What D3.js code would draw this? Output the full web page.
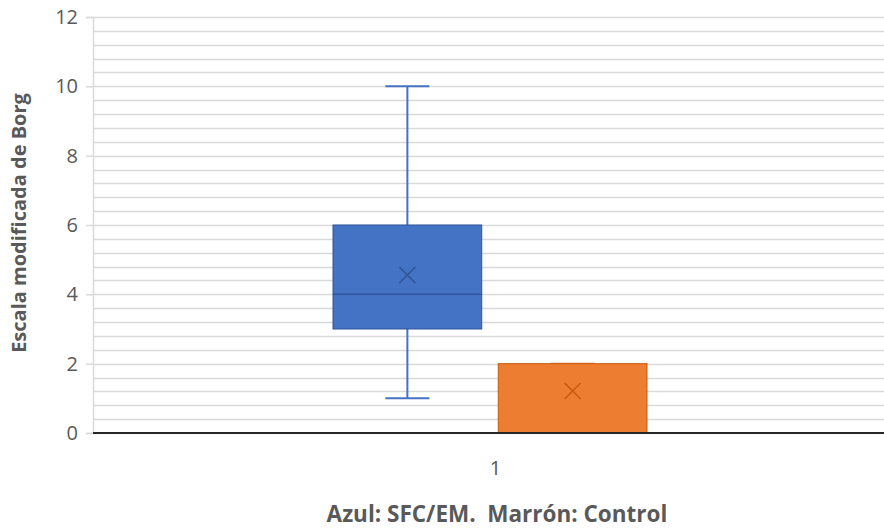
<!DOCTYPE html>
<html>
<head>
<meta charset="utf-8">
<title>Escala modificada de Borg</title>
<style>
  body { margin: 0; background: #fff; }
  text { font-family: "Open Sans", "Liberation Sans", sans-serif; white-space: pre; }
</style>
<script src="https://cdn.jsdelivr.net/npm/d3@7"></script>
</head>
<body>
<script>
// data
var categories = ["1"];
var groups = ["SFC/EM", "Control"];
var colors = ["#4472C4", "#ED7D31"];
var strokes = ["#2F5597", "#C55A11"];
var whiskerLow = [1, 0];
var q1 = [3, 0];
var median = [4, 0];
var q3 = [6, 2];
var whiskerHigh = [10, 2];
var means = [4.56, 1.21];
var yTicks = [0, 2, 4, 6, 8, 10, 12];

var margin = {top: 17, right: 0, bottom: 96, left: 93},
    width = 884 - margin.left - margin.right,
    height = 529 - margin.top - margin.bottom;

var svg = d3.select("body").append("svg")
    .attr("width", 884)
    .attr("height", 529)
  .append("g")
    .attr("transform", "translate(" + margin.left + "," + margin.top + ")");

var y = d3.scaleLinear().domain([0, 12]).range([height, 0]);
var x = d3.scaleBand().domain(categories).range([0, width]);
var xg = d3.scaleBand().domain(groups).range([240, 554]).paddingInner(0.1);

// minor + major gridlines every 0.4
var grid = d3.range(0, 12.01, 0.4).filter(function(v) { return v > 0.01; });
svg.selectAll(".grid").data(grid).enter().append("line")
    .attr("x1", 0).attr("x2", width)
    .attr("y1", function(d) { return Math.round(y(d)) + 0.5; })
    .attr("y2", function(d) { return Math.round(y(d)) + 0.5; })
    .attr("stroke", "#d9d9d9").attr("stroke-width", 1.5);

// y axis
var yAxis = svg.append("g")
    .call(d3.axisLeft(y).tickValues(yTicks).tickSize(7).tickPadding(8));
yAxis.select(".domain").attr("stroke", "#d9d9d9").attr("stroke-width", 1.5);
yAxis.selectAll(".tick line").attr("stroke", "#d9d9d9").attr("stroke-width", 1.5);
yAxis.selectAll(".tick text").attr("fill", "#595959").style("font-size", "20px");

var idx = d3.range(groups.length);
var cx = function(i) { return xg(groups[i]) + xg.bandwidth() / 2; };

// whiskers
svg.selectAll(".whisker").data(idx).enter().append("line")
    .attr("x1", cx).attr("x2", cx)
    .attr("y1", function(i) { return y(whiskerLow[i]); })
    .attr("y2", function(i) { return y(whiskerHigh[i]); })
    .attr("stroke", function(i) { return colors[i]; }).attr("stroke-width", 2);
["low", "high"].forEach(function(k) {
  svg.selectAll(".cap-" + k).data(idx).enter().append("line")
      .attr("x1", function(i) { return cx(i) - 22; })
      .attr("x2", function(i) { return cx(i) + 22; })
      .attr("y1", function(i) { return y(k == "low" ? whiskerLow[i] : whiskerHigh[i]); })
      .attr("y2", function(i) { return y(k == "low" ? whiskerLow[i] : whiskerHigh[i]); })
      .attr("stroke", function(i) { return colors[i]; }).attr("stroke-width", 2);
});

// boxes
svg.selectAll(".box").data(idx).enter().append("rect")
    .attr("x", function(i) { return xg(groups[i]); })
    .attr("width", xg.bandwidth())
    .attr("y", function(i) { return y(q3[i]); })
    .attr("height", function(i) { return y(q1[i]) - y(q3[i]); })
    .attr("fill", function(i) { return colors[i]; })
    .attr("stroke", function(i) { return strokes[i]; }).attr("stroke-width", 1);

// median
svg.selectAll(".median").data(idx).enter().append("line")
    .attr("x1", function(i) { return xg(groups[i]); })
    .attr("x2", function(i) { return xg(groups[i]) + xg.bandwidth(); })
    .attr("y1", function(i) { return y(median[i]); })
    .attr("y2", function(i) { return y(median[i]); })
    .attr("stroke", function(i) { return strokes[i]; }).attr("stroke-width", 1.5);

// mean markers (x)
svg.selectAll(".mean").data(idx).enter().append("path")
    .attr("d", function(i) {
      var px = cx(i), py = y(means[i]), s = 8;
      return "M" + (px - s) + "," + (py - s) + "L" + (px + s) + "," + (py + s) +
             "M" + (px - s) + "," + (py + s) + "L" + (px + s) + "," + (py - s);
    })
    .attr("stroke", function(i) { return strokes[i]; }).attr("stroke-width", 1.5)
    .attr("fill", "none");

// baseline
svg.append("line")
    .attr("x1", 0).attr("x2", width)
    .attr("y1", y(0)).attr("y2", y(0))
    .attr("stroke", "#262626").attr("stroke-width", 2);

// x axis category label
svg.selectAll(".cat").data(categories).enter().append("text")
    .attr("x", function(d) { return x(d) + x.bandwidth() / 2 + 7; })
    .attr("y", height + 42)
    .attr("text-anchor", "middle")
    .attr("fill", "#595959").style("font-size", "20px")
    .text(function(d) { return d; });

// axis titles
svg.append("text")
    .attr("transform", "translate(-67," + (height / 2 - 2) + ") rotate(-90)")
    .attr("text-anchor", "middle")
    .attr("fill", "#595959").style("font-size", "20px").style("font-weight", "bold")
    .text("Escala modificada de Borg");

svg.append("text")
    .attr("x", 404).attr("y", height + 89)
    .attr("text-anchor", "middle")
    .attr("fill", "#595959").style("font-size", "22.5px").style("font-weight", "bold")
    .text("Azul: SFC/EM.  Marrón: Control");
</script>
</body>
</html>
